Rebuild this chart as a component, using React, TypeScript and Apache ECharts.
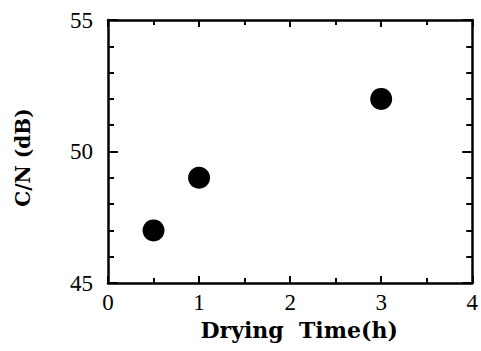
import React, { useEffect, useRef } from "react";
import * as echarts from "echarts";

const dryingTime = [0.5, 1, 3];
const cnValues = [47, 49, 52];
const xTickLabels = ["0", "1", "2", "3", "4"];
const yTickLabels = ["45", "50", "55"];

export default function App() {
  const ref = useRef<HTMLDivElement>(null);
  useEffect(() => {
    if (!ref.current) return;
    const chart = echarts.init(ref.current, undefined, { renderer: "svg" });
    const axisLine = { show: true, onZero: false, lineStyle: { color: "#000", width: 2.5 } };
    const serif = "Liberation Serif";
    chart.setOption({
      animation: false,
      backgroundColor: "#fff",
      grid: { left: 108, right: 6, top: 20, bottom: 68 },
      xAxis: [
        {
          type: "value",
          min: 0,
          max: 4,
          interval: 1,
          position: "bottom",
          axisLine,
          axisTick: { show: true, inside: true, length: 7, lineStyle: { color: "#000", width: 2 } },
          minorTick: { show: true, splitNumber: 2, length: 5, lineStyle: { color: "#000", width: 2 } },
          splitLine: { show: false },
          axisLabel: {
            color: "#000",
            fontFamily: serif,
            fontSize: 23,
            margin: 8,
            formatter: (v: number) => xTickLabels[v] ?? "",
          },
          name: "Drying  Time(h)",
          nameLocation: "middle",
          nameGap: 35,
          nameTextStyle: {
            color: "#000",
            fontFamily: "DejaVu Serif",
            fontWeight: "bold",
            fontSize: 22,
            padding: [0, 0, 0, 18],
          },
        },
        {
          type: "value",
          min: 0,
          max: 4,
          interval: 1,
          position: "top",
          axisLine,
          axisTick: { show: true, inside: true, length: 7, lineStyle: { color: "#000", width: 2 } },
          minorTick: { show: true, splitNumber: 2, length: 5, lineStyle: { color: "#000", width: 2 } },
          splitLine: { show: false },
          axisLabel: { show: false },
        },
      ],
      yAxis: [
        {
          type: "value",
          min: 45,
          max: 55,
          interval: 5,
          position: "left",
          axisLine,
          axisTick: { show: true, inside: true, length: 10, lineStyle: { color: "#000", width: 2 } },
          minorTick: { show: true, splitNumber: 5, length: 6, lineStyle: { color: "#000", width: 2 } },
          splitLine: { show: false },
          axisLabel: {
            color: "#000",
            fontFamily: serif,
            fontSize: 23,
            margin: 15,
            formatter: (v: number) => yTickLabels[(v - 45) / 5] ?? "",
          },
          name: "C/N (dB)",
          nameLocation: "middle",
          nameGap: 75,
          nameTextStyle: {
            color: "#000",
            fontFamily: "DejaVu Serif",
            fontWeight: "bold",
            fontSize: 20,
            padding: [0, 12, 0, 0],
          },
        },
        {
          type: "value",
          min: 45,
          max: 55,
          interval: 5,
          position: "right",
          axisLine,
          axisTick: { show: true, inside: true, length: 10, lineStyle: { color: "#000", width: 2 } },
          minorTick: { show: true, splitNumber: 5, length: 6, lineStyle: { color: "#000", width: 2 } },
          splitLine: { show: false },
          axisLabel: { show: false },
        },
      ],
      series: [
        {
          type: "scatter",
          data: dryingTime.map((x, i) => [x, cnValues[i]]),
          symbol: "circle",
          symbolSize: 22,
          itemStyle: { color: "#000", opacity: 1 },
        },
      ],
    });
    return () => chart.dispose();
  }, []);
  return <div ref={ref} style={{ width: 481, height: 351, position: "absolute", left: 0, top: 0 }} />;
}
